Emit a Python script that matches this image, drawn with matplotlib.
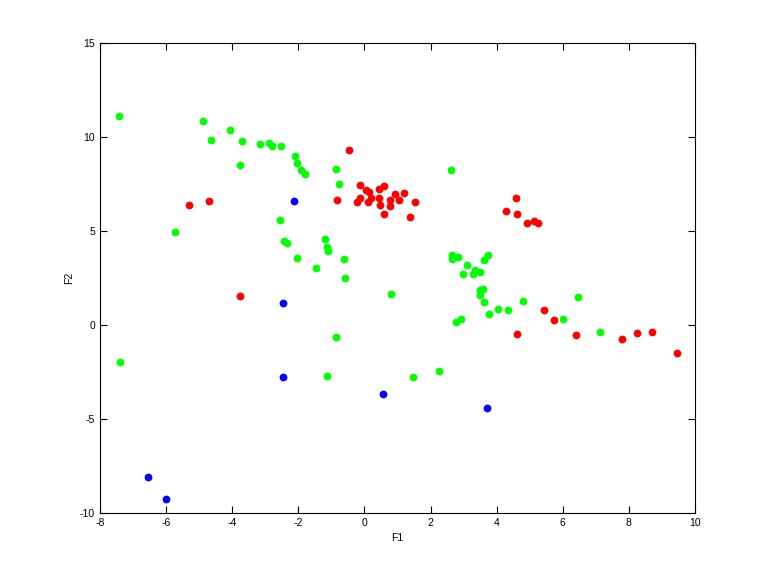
import matplotlib
matplotlib.use("Agg")
import matplotlib.pyplot as plt

plt.rcParams['font.family'] = ['Liberation Sans', 'DejaVu Sans']
plt.rcParams['axes.unicode_minus'] = False

# green class
green_x = [-7.42, -4.87, -4.63, -4.05, -3.69, -3.75, -3.17, -2.87, -2.79, -2.51,
           -2.11, -2.05, -1.93, -1.80, -5.73, -2.55, -2.42, -2.34, -2.05, -0.87,
           -0.78, 2.62, 2.65, 2.65, 2.83, 3.11, 2.98, 3.30, 3.36, 3.49,
           3.62, 3.74, 3.49, 3.58, 3.49, 3.62, 3.77, 4.04, 4.34, 4.80,
           6.46, 2.77, 2.92, 6.01, 7.13, 2.25, -1.47, -0.60, -0.85, -7.38,
           -1.14, 1.46, -1.20, -1.14, -1.10, -0.63, 0.80]
green_y = [11.10, 10.84, 9.82, 10.36, 9.77, 8.49, 9.61, 9.66, 9.52, 9.50,
           8.97, 8.60, 8.23, 8.02, 4.93, 5.57, 4.45, 4.35, 3.55, 8.28,
           7.48, 8.23, 3.71, 3.50, 3.60, 3.17, 2.70, 2.70, 2.93, 2.80,
           3.43, 3.71, 1.86, 1.91, 1.58, 1.21, 0.57, 0.83, 0.78, 1.26,
           1.47, 0.14, 0.30, 0.30, -0.39, -2.46, 3.02, 2.48, -0.65, -1.98,
           -2.73, -2.78, 4.56, 4.13, 3.95, 3.49, 1.63]

# red class
red_x = [-5.29, -4.69, -0.48, -0.84, -0.14, -0.23, -0.14, 0.04, 0.13, 0.10,
         0.19, 0.43, 0.58, 0.43, 0.46, 0.58, 0.77, 0.77, 0.92, 1.04,
         1.19, 1.52, 1.37, 4.58, 4.28, 4.61, 4.92, 5.12, 5.25, 5.43,
         5.74, 4.61, 6.40, 7.80, 8.25, 8.71, 9.46, -3.75]
red_y = [6.37, 6.58, 9.29, 6.63, 7.43, 6.53, 6.74, 7.16, 7.06, 6.53,
         6.74, 7.22, 7.38, 6.74, 6.37, 5.89, 6.63, 6.31, 6.95, 6.63,
         7.00, 6.53, 5.73, 6.74, 6.05, 5.89, 5.41, 5.52, 5.41, 0.78,
         0.25, -0.48, -0.55, -0.76, -0.44, -0.39, -1.50, 1.53]

# blue class
blue_x = [-2.14, -2.45, -2.45, -6.54, -6.00, 0.55, 3.71]
blue_y = [6.58, 1.15, -2.78, -8.10, -9.27, -3.69, -4.43]

fig = plt.figure(figsize=(7.68, 5.76), dpi=100)
ax = fig.add_axes([0.13, 0.11, 0.775, 0.815])

ax.plot(green_x, green_y, 'o', color=(0, 1, 0), markersize=5.6, markeredgewidth=0)
ax.plot(red_x, red_y, 'o', color=(1, 0, 0), markersize=5.6, markeredgewidth=0)
ax.plot(blue_x, blue_y, 'o', color=(0, 0, 1), markersize=5.6, markeredgewidth=0)

ax.set_xlim(-8, 10)
ax.set_ylim(-10, 15)
ax.set_xticks(range(-8, 11, 2))
ax.set_yticks(range(-10, 16, 5))
ax.tick_params(direction='in', top=True, right=True, labelsize=7.5, length=5)
ax.set_xlabel("F1", fontsize=7.5)
ax.set_ylabel("F2", fontsize=7.5)

fig.savefig("out.png", dpi=100)
